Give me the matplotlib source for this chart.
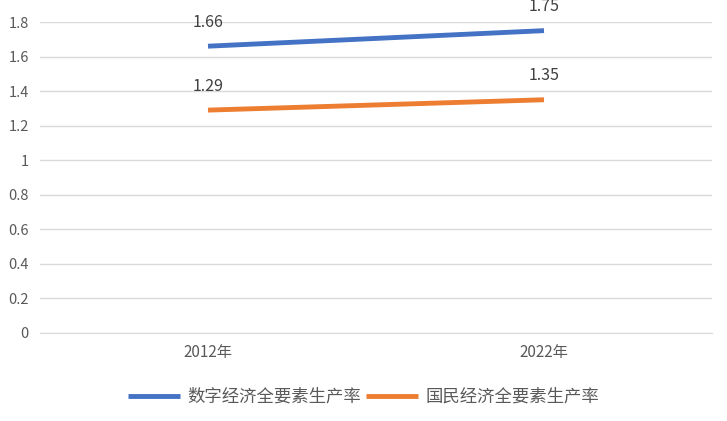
import matplotlib
matplotlib.use("Agg")
import matplotlib.pyplot as plt

categories = ["2012年", "2022年"]
digital = [1.66, 1.75]
national = [1.29, 1.35]
series_names = ["数字经济全要素生产率", "国民经济全要素生产率"]
yticks = [0, 0.2, 0.4, 0.6, 0.8, 1, 1.2, 1.4, 1.6, 1.8]

plt.rcParams["font.family"] = "Noto Sans CJK SC"
fig = plt.figure(figsize=(7.27, 4.21), dpi=100)
ax = fig.add_axes([40/727, 1-333/421, 672/727, (333-22)/421])
x = [0.5, 1.5]
ax.plot(x, digital, color="#4472C4", lw=3.5, label=series_names[0], solid_capstyle="butt")
ax.plot(x, national, color="#ED7D31", lw=3.5, label=series_names[1], solid_capstyle="butt")
for xs, vals in ((x, digital), (x, national)):
    for xi, v in zip(xs, vals):
        ax.annotate(f"{v:.2f}", (xi, v), xytext=(0, 11), textcoords="offset points",
                    ha="center", va="bottom", fontsize=11.5, color="#404040", clip_on=False)
ax.set_xlim(0, 2)
ax.set_ylim(0, 1.8)
ax.set_yticks(yticks)
ax.set_yticklabels([f"{t:g}" for t in yticks], fontsize=10.5, color="#595959")
ax.set_xticks(x)
ax.set_xticklabels(categories, fontsize=11, color="#595959")
ax.grid(axis="y", color="#D9D9D9", lw=1)
ax.set_axisbelow(True)
for s in ["top", "right", "left"]:
    ax.spines[s].set_visible(False)
ax.spines["bottom"].set_color("#D9D9D9")
ax.tick_params(length=0, pad=8)
fig.legend(loc="center", bbox_to_anchor=(0.5, 1-397/421), ncol=2, frameon=False,
           fontsize=12.5, labelcolor="#595959", handlelength=3, columnspacing=0.3, handletextpad=0.4)
fig.savefig("out.png", dpi=100)
